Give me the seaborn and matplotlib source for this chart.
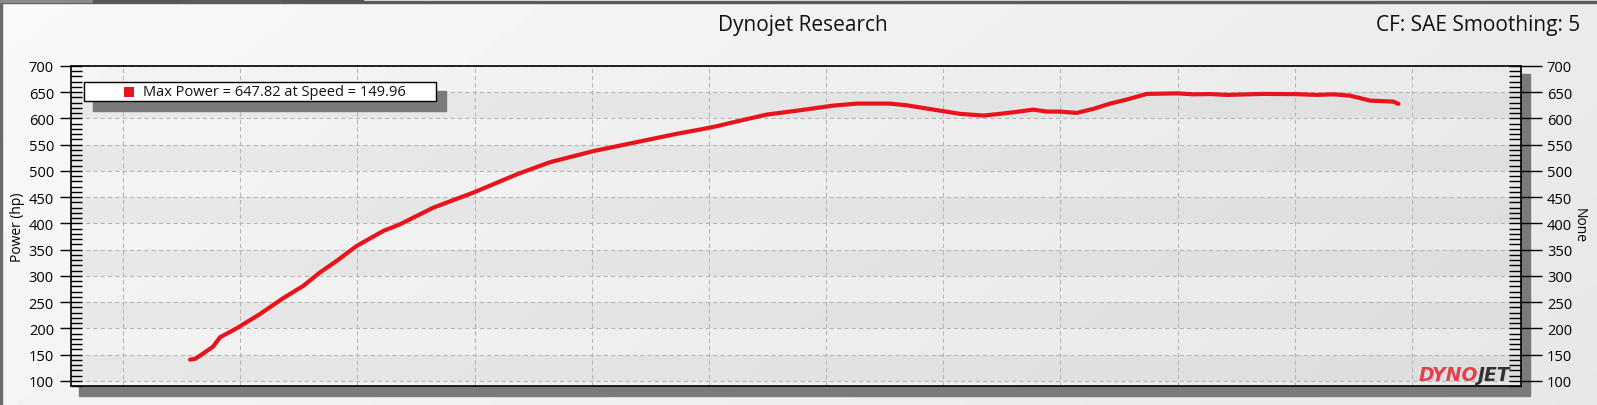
import numpy as np
import pandas as pd
import matplotlib
matplotlib.use("Agg")
import matplotlib.pyplot as plt
import seaborn as sns
from matplotlib.patches import Rectangle
from matplotlib.ticker import MultipleLocator, NullFormatter

# ---------------- data ----------------
speed = [65.72, 66.14, 66.57, 67.68, 68.28, 69.70, 71.69, 73.68, 75.39, 76.81,
         78.24, 79.94, 82.21, 83.64, 86.48, 89.89, 93.60, 96.44, 100.13, 103.55,
         107.25, 109.24, 110.66, 112.08, 114.93, 117.77, 120.61, 122.61, 125.45,
         126.88, 129.15, 131.43, 133.41, 134.84, 136.27, 137.68, 138.83, 139.96,
         141.39, 142.80, 144.23, 145.65, 147.36, 149.96, 151.34, 152.76, 154.19,
         157.31, 160.16, 161.87, 163.29, 164.71, 166.42, 168.40, 168.83]
power = [140.3, 141.7, 147.9, 165.0, 182.9, 200.0, 227.2, 257.6, 281.0, 306.5,
         328.6, 357.0, 385.6, 398.3, 430.0, 458.6, 493.4, 516.7, 537.7, 553.6,
         570.7, 578.9, 585.2, 592.8, 607.4, 615.6, 624.5, 628.3, 628.3,
         625.1, 616.9, 608.8, 605.5, 608.8, 612.6, 616.9, 613.1, 613.1,
         610.6, 618.3, 628.3, 636.0, 646.8, 647.82, 646.0, 646.5, 644.9,
         646.8, 646.3, 644.9, 646.0, 643.5, 634.0, 632.1, 627.8]
y_ticks = list(range(100, 701, 50))
x_grid = list(range(60, 171, 10))
title_text = "Dynojet Research"
cf_text = "CF: SAE Smoothing: 5"
left_label = "Power (hp)"
right_label = "None"

df = pd.DataFrame({"Speed": speed, "Power": power})
imax = int(np.argmax(power))
legend_text = f"Max Power = {power[imax]:.2f} at Speed = {speed[imax]:.2f}"

# ---------------- figure ----------------
W, H = 1597, 406
FONT = ["Open Sans", "DejaVu Sans"]
plt.rcParams["font.family"] = FONT
RED = "#e8131b"

fig = plt.figure(figsize=(W / 100, H / 100), dpi=100)

def fx(x):
    return x / W

def fy(y):
    return 1 - y / H

# figure background gradient
bg = fig.add_axes([0, 0, 1, 1], zorder=-10)
gx, gy = np.meshgrid(np.linspace(0, 1, 300), np.linspace(0, 1, 60))
bg.imshow(0.975 - 0.07 * (0.75 * gx + 0.25 * gy), cmap="gray", vmin=0, vmax=1,
          extent=[0, 1, 0, 1], aspect="auto", origin="upper", interpolation="bilinear")
bg.set_axis_off()
bg.set_xlim(0, 1)
bg.set_ylim(0, 1)

# window chrome at top / left
bg.add_patch(Rectangle((0, fy(3.5)), 1, 1.5 / H, transform=fig.transFigure, color="#5a5a5a", zorder=3))
bg.add_patch(Rectangle((0, 0), 1.5 / W, fy(3.5), transform=fig.transFigure, color="#6a6a6a", zorder=3))
for x0, x1, c in [(0, 92, "#8a8a8a"), (93, 179, "#555555"), (180, 282, "#5a5a5a"), (283, 363, "#555555")]:
    bg.add_patch(Rectangle((fx(x0), fy(3)), (x1 - x0) / W, 3 / H, transform=fig.transFigure,
                           color=c, zorder=3))

# plot shadow
fig.patches.append(Rectangle((fx(79), fy(397)), (1530 - 79) / W, (397 - 75) / H,
                             transform=fig.transFigure, color="#7a7a7a", zorder=-5))

# main axes
ax = fig.add_axes([fx(71), fy(387), 1450 / W, 320 / H], zorder=1)
xlim = (55.56, 179.3)
ylim = (90, 700)

# plot-area gradient background
px_, py_ = np.meshgrid(np.linspace(0, 1, 300), np.linspace(0, 1, 60))
ax.imshow(0.958 - 0.05 * (0.8 * px_ + 0.2 * py_), cmap="gray", vmin=0, vmax=1,
          extent=[xlim[0], xlim[1], ylim[0], ylim[1]], aspect="auto", origin="upper",
          interpolation="bilinear", zorder=0)
for lo in range(100, 700, 100):
    ax.axhspan(lo, lo + 50, color="black", alpha=0.042, lw=0, zorder=0.5)

sns.lineplot(data=df, x="Speed", y="Power", ax=ax, color=RED, linewidth=3.0,
             solid_capstyle="round", solid_joinstyle="round", zorder=5)

ax.set_xlim(*xlim)
ax.set_ylim(*ylim)
ax.set_xticks(x_grid)
ax.xaxis.set_major_formatter(NullFormatter())
ax.tick_params(axis="x", which="both", length=0, bottom=False)
ax.set_xlabel("")
ax.set_yticks(y_ticks)
ax.yaxis.set_minor_locator(MultipleLocator(10))
ax.yaxis.remove_overlapping_locs = False
ax.grid(True, which="major", axis="both", linestyle=(0, (4, 3)), color="#b4b4b4", linewidth=0.75, zorder=1)
ax.set_axisbelow(True)
ax.tick_params(axis="y", which="major", direction="out", length=8, width=1.0, color="black",
               labelsize=10.5, pad=4.3, left=True, right=False)
ax.tick_params(axis="y", which="minor", direction="in", length=8, width=1.0, color="black",
               left=True, right=False)
for s in ax.spines.values():
    s.set_color("black")
    s.set_linewidth(1.2)

ax.set_ylabel(left_label, fontsize=10, va="center")
ax.yaxis.set_label_coords((17.5 - 71) / 1450, (387 - 227.5) / 320)

# right axis
ax2 = ax.twinx()
ax2.set_ylim(*ylim)
ax2.set_yticks(y_ticks)
ax2.yaxis.set_minor_locator(MultipleLocator(10))
ax2.yaxis.remove_overlapping_locs = False
ax2.tick_params(axis="y", which="major", direction="out", length=15, width=1.0, color="black",
                labelsize=10.5, pad=3.6)
ax2.tick_params(axis="y", which="minor", direction="in", length=9, width=1.0, color="black")
for s in ax2.spines.values():
    s.set_visible(False)
ax2.set_ylabel(right_label, fontsize=10, rotation=-90, va="center")
ax2.yaxis.set_label_coords((1579 - 71) / 1450, (387 - 226) / 320)

# titles
fig.text(fx(803), fy(26), title_text, ha="center", va="center", fontsize=15, color="#111111")
fig.text(fx(1580), fy(26), cf_text, ha="right", va="center", fontsize=15, color="#111111")

# legend box with shadow
fig.patches.append(Rectangle((fx(93), fy(112)), (446 - 93) / W, (112 - 92) / H,
                             transform=fig.transFigure, color="#7a7a7a", zorder=6))
fig.patches.append(Rectangle((fx(84), fy(102)), (436 - 84) / W, (102 - 83) / H,
                             transform=fig.transFigure, facecolor="white", edgecolor="black",
                             linewidth=1.0, zorder=7))
fig.patches.append(Rectangle((fx(124), fy(98)), 10 / W, 10 / H, transform=fig.transFigure,
                             facecolor=RED, edgecolor="none", zorder=8))
fig.text(fx(143), fy(92.5), legend_text, ha="left", va="center", fontsize=10.5,
         color="#111111", zorder=9)

# Dynojet logo (two parts, placed side by side)
logo_font = ["DejaVu Sans"]
t1 = fig.text(fx(1419), fy(376), "DYNO", ha="left", va="center", fontsize=13.5,
              fontweight="bold", fontstyle="italic", color="#e2404c", zorder=9,
              family=logo_font)
fig.canvas.draw()
bb = t1.get_window_extent(renderer=fig.canvas.get_renderer())
x_jet = bb.x1 / fig.bbox.width - 1.0 / W
fig.text(x_jet, fy(376), "JET", ha="left", va="center", fontsize=13.5,
         fontweight="bold", fontstyle="italic", color="#333333", zorder=9,
         family=logo_font)

fig.savefig("out.png", dpi=100)
